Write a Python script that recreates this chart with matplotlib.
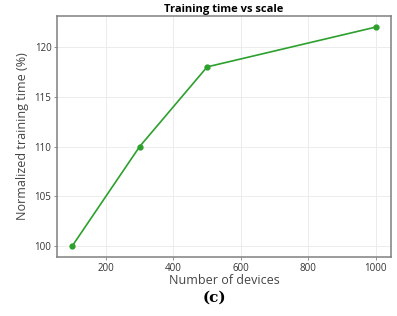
import matplotlib
matplotlib.use("Agg")
import matplotlib.pyplot as plt

devices = [100, 300, 500, 1000]
norm_time = [100, 110, 118, 122]

plt.rcParams['font.family'] = ['Open Sans', 'DejaVu Sans']

fig = plt.figure(figsize=(3.97, 3.16), dpi=100)
ax = fig.add_axes([0.1436, 0.1867, 0.8414, 0.7623])

ax.plot(devices, norm_time, color='#2ca02c', marker='o', markersize=3.5, linewidth=1.2)
ax.set_xticks([200, 400, 600, 800, 1000])
ax.set_yticks([100, 105, 110, 115, 120])
ax.grid(True, color='#ececec', linewidth=0.7)
ax.set_axisbelow(True)
for s in ax.spines.values():
    s.set_color('#808080')
    s.set_linewidth(1.1)
ax.tick_params(labelsize=7, colors='#333333', length=2, width=0.6, pad=2)
ax.tick_params(axis='both', color='#808080')

ax.set_title("Training time vs scale", fontsize=8, fontweight='bold', pad=3)
ax.set_xlabel("Number of devices", fontsize=9, color='#444444', labelpad=0)
ax.set_ylabel("Normalized training time (%)", fontsize=9, color='#444444', labelpad=4)

fig.text(0.54, 0.057, "(c)", fontsize=11, fontweight='bold', family='DejaVu Serif',
         ha='center', va='center')

fig.savefig("out.png", dpi=100)
